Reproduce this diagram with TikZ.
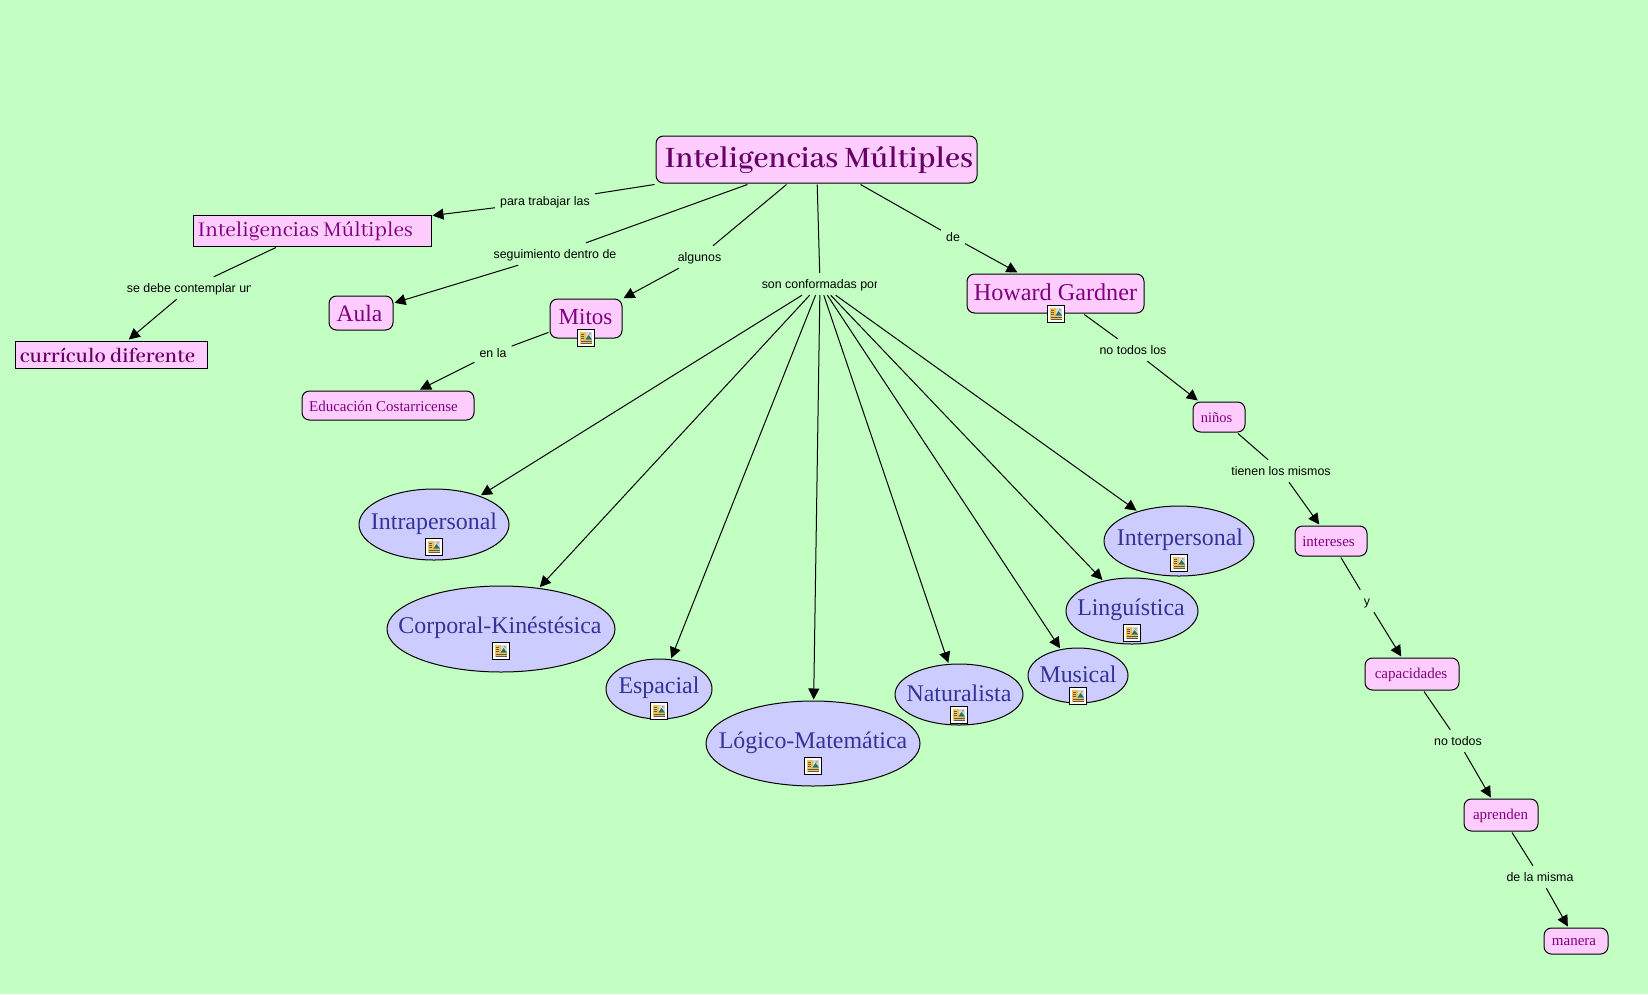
\documentclass[tikz,border=0pt]{standalone}
\usepackage{fontspec}
\usepackage{graphicx}
\setmainfont{Liberation Serif}
\newfontfamily\labfont{Liberation Sans}
\newfontfamily\garfont{Abhaya Libre}
\usetikzlibrary{shapes.geometric,arrows.meta}
\definecolor{bgc}{HTML}{C3FFC3}
\definecolor{pinkc}{HTML}{FFCCFF}
\definecolor{bluec}{HTML}{CCCCFF}
\definecolor{purp}{HTML}{800080}
\definecolor{dpurp}{HTML}{660066}
\definecolor{navyc}{HTML}{333399}
\definecolor{iconyel}{HTML}{F0C050}
\definecolor{iconsky}{HTML}{C8DCE8}
\definecolor{icongrn}{HTML}{2F6F4F}
\definecolor{iconsun}{HTML}{E89060}
\newcommand\tx[3]{\raisebox{#2pt}[0pt][0pt]{\makebox[0pt]{\kern\dimexpr #1pt*2\relax #3}}}
\newcommand\fs[1]{\fontsize{#1}{#1}\selectfont}
\tikzset{
  base/.style={draw=black,line width=1pt,inner sep=0pt,outer sep=1.5pt},
  rbox/.style={base,rectangle,rounded corners=7.5pt,fill=pinkc,text=purp},
  sbox/.style={base,rectangle,fill=pinkc,text=dpurp},
  ell/.style={base,ellipse,fill=bluec,text=navyc,font=\fs{23.9}},
  big/.style={font=\fs{24}},
  small/.style={font=\fs{15}},
  lab/.style={rectangle,inner xsep=5pt,inner ysep=0pt,minimum height=22pt,text height=8pt,text depth=0pt,text=black,font=\labfont\fs{12.4}},
  conn/.style={line width=1pt,black},
  arr/.style={conn,-{Triangle[length=11pt,width=11pt]}},
  iconbox/.style={draw=black,line width=1pt,fill=white,minimum size=16.5pt,inner sep=0pt,outer sep=0pt}
}
\newcommand\icon[2]{%
  \node[iconbox] (#1) at (#2) {};
  \begin{scope}[shift={(#2)}]
    \fill[iconyel] (-6,-6) rectangle (6,6);
    \fill[iconsky] (-0.5,-6) rectangle (6,1.5);
    \fill[icongrn] (-0.5,1.5) -- (2.5,-3) -- (6,1.5) -- cycle;
    \fill[iconsun] (3.8,-4.2) circle (1.2);
    \draw[black!65,line width=0.7pt] (-5,-3.5) -- (-2,-3.5) (-5,-1.5) -- (-2,-1.5) (-5,0.5) -- (-2,0.5) (-5,3) -- (5.5,3) (-5,5) -- (5.5,5);
  \end{scope}}
\begin{document}
\begin{tikzpicture}[x=1pt,y=-1pt]
\useasboundingbox (0,0) rectangle (1648,994);
\fill[bgc] (0,0) rectangle (1648,994);

% concepts
\node[rbox,text=dpurp,minimum width=321pt,minimum height=47pt,font=\garfont\bfseries] (main) at (816.5,159.5) {\tx{2.5}{-8}{\resizebox{308pt}{!}{Inteligencias Múltiples}}};
\node[sbox,text=purp,minimum width=238pt,minimum height=31pt,font=\garfont] (intel) at (312,230.5) {\tx{-6.5}{-5.5}{\resizebox{215pt}{!}{Inteligencias Múltiples}}};
\node[sbox,minimum width=192pt,minimum height=27pt,font=\garfont\bfseries] (curr) at (111,354.5) {\tx{-3.5}{-8}{\resizebox{175pt}{!}{currículo diferente}}};
\node[rbox,big,font=\fs{23.5},minimum width=64pt,minimum height=34pt] (aula) at (361,313) {\tx{-1.5}{-8}{Aula}};
\node[rbox,font=\fs{23},minimum width=72pt,minimum height=39pt] (mitos) at (586,318.5) {\tx{-0.5}{-5.5}{Mitos}};
\node[rbox,small,minimum width=172pt,minimum height=29pt] (edu) at (388,405.5) {\tx{-4.5}{-5.5}{Educación Costarricense}};
\node[rbox,font=\fs{24.2},minimum width=177pt,minimum height=39pt] (how) at (1055.5,293.5) {\tx{0}{-6.5}{Howard Gardner}};
\node[rbox,small,font=\fs{14.5},minimum width=52pt,minimum height=30pt] (nin) at (1219,417) {\tx{-2.5}{-5}{niños}};
\node[rbox,small,minimum width=72pt,minimum height=30pt] (inter) at (1331,541) {\tx{-2.5}{-5}{intereses}};
\node[rbox,small,minimum width=94pt,minimum height=32pt] (cap) at (1412,674) {\tx{-1}{-4.5}{capacidades}};
\node[rbox,small,minimum width=74pt,minimum height=32pt] (apr) at (1501,815) {\tx{-0.5}{-4.5}{aprenden}};
\node[rbox,small,minimum width=64pt,minimum height=26pt] (man) at (1576,941) {\tx{-2}{-4}{manera}};

% ellipses
\node[ell,minimum width=150pt,minimum height=71pt] (intra) at (434,524.5) {\tx{0}{-4.5}{Intrapersonal}};
\node[ell,minimum width=228pt,minimum height=86pt] (corp) at (501,629) {\tx{-1}{-4}{Corporal-Kinéstésica}};
\node[ell,minimum width=106pt,minimum height=60pt] (esp) at (659,689) {\tx{0}{-4}{Espacial}};
\node[ell,minimum width=214pt,minimum height=85pt] (log) at (813,743.5) {\tx{0}{-4.5}{Lógico-Matemática}};
\node[ell,minimum width=128pt,minimum height=61pt] (nat) at (959,694.5) {\tx{0}{-6.5}{Naturalista}};
\node[ell,minimum width=100pt,minimum height=55pt] (mus) at (1078,675.5) {\tx{0}{-6.5}{Musical}};
\node[ell,minimum width=132pt,minimum height=66pt] (lin) at (1132,611) {\tx{-1}{-4}{Linguística}};
\node[ell,minimum width=150pt,minimum height=70pt] (ipe) at (1179,541) {\tx{1}{-4}{Interpersonal}};

% linking phrases
\node[lab] (l1) at (545,201.5) {para trabajar las};
\begin{scope}
  \clip (120,270) rectangle (250.5,306);
  \node[lab] (l2) at (190,288) {se debe contemplar un};
\end{scope}
\node[lab] (l3) at (555,254) {seguimiento dentro de};
\node[lab] (l4) at (699.5,257) {algunos};
\node[lab] (l5) at (493,353) {en la};
\begin{scope}
  \clip (750,266) rectangle (876,302);
  \node[lab] (l6) at (820,284) {son conformadas por};
\end{scope}
\node[lab] (l7) at (953,237) {de};
\node[lab] (l8) at (1133,350) {no todos los};
\begin{scope}
  \clip (1220,453) rectangle (1329,489);
  \node[lab] (l9) at (1281,471) {tienen los mismos};
\end{scope}
\node[lab] (l10) at (1367,601) {y};
\node[lab] (l11) at (1458,741) {no todos};
\node[lab] (l12) at (1540,877) {de la misma};

% connectors
\draw[conn] (main) -- (l1); \draw[arr] (l1) -- (intel);
\draw[conn] (intel) -- (l2); \draw[arr] (l2) -- (curr);
\draw[conn] (main) -- (l3); \draw[arr] (l3) -- (aula);
\draw[conn] (main) -- (l4); \draw[arr] (l4) -- (mitos);
\draw[conn] (mitos) -- (l5); \draw[arr] (l5) -- (edu);
\draw[conn] (main) -- (l6);
\draw[arr] (l6) -- (intra);
\draw[arr] (l6) -- (corp);
\draw[arr] (l6) -- (esp);
\draw[arr] (l6) -- (log);
\draw[arr] (l6) -- (nat);
\draw[arr] (l6) -- (mus);
\draw[arr] (l6) -- (lin);
\draw[arr] (l6) -- (ipe);
\draw[conn] (main) -- (l7); \draw[arr] (l7) -- (how);
\draw[conn] (how) -- (l8); \draw[arr] (l8) -- (nin);
\draw[conn] (nin) -- (l9); \draw[arr] (l9) -- (inter);
\draw[conn] (inter) -- (l10); \draw[arr] (l10) -- (cap);
\draw[conn] (cap) -- (l11); \draw[arr] (l11) -- (apr);
\draw[conn] (apr) -- (l12); \draw[arr] (l12) -- (man);

% icons
\icon{i1}{586,338}
\icon{i2}{1056,314}
\icon{i3}{434,547}
\icon{i4}{501,651}
\icon{i5}{659,711}
\icon{i6}{813,766}
\icon{i7}{959,715}
\icon{i8}{1078,696}
\icon{i9}{1132,633}
\icon{i10}{1179,563}
\end{tikzpicture}
\end{document}
